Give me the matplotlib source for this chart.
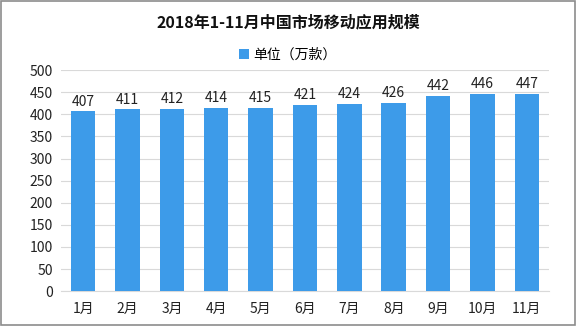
import matplotlib.pyplot as plt
from matplotlib.patches import Rectangle

plt.rcParams['font.family'] = ['Noto Sans CJK SC', 'DejaVu Sans']

months = ['1月', '2月', '3月', '4月', '5月', '6月', '7月', '8月', '9月', '10月', '11月']
apps = [407, 411, 412, 414, 415, 421, 424, 426, 442, 446, 447]
series_name = '单位（万款）'
bar_color = '#3d9be9'

fig = plt.figure(figsize=(5.76, 3.26), dpi=100)
ax = fig.add_axes([0.106, 0.107, 0.847, 0.678])

x = range(len(months))
bars = ax.bar(x, apps, width=0.55, color=bar_color, label=series_name, zorder=3)
for xi, v in zip(x, apps):
    ax.text(xi, v + 6, str(v), ha='center', va='bottom', fontsize=10, color='#222222')

ax.set_xlim(-0.5, len(months) - 0.5)
ax.set_ylim(0, 500)
ax.set_yticks(range(0, 501, 50))
ax.set_xticks(list(x))
ax.set_xticklabels(months)
ax.tick_params(axis='both', length=0, labelsize=10, colors='#222222')
ax.tick_params(axis='x', pad=8)
ax.tick_params(axis='y', pad=6)
ax.grid(axis='y', color='#d9d9d9', lw=0.8, zorder=0)
for s in ['top', 'right', 'left']:
    ax.spines[s].set_visible(False)
ax.spines['bottom'].set_color('#d9d9d9')

fig.text(0.5, 0.93, '2018年1-11月中国市场移动应用规模', ha='center', va='center',
         fontsize=11.5, fontweight='bold', color='#111111')
fig.legend(loc='center', bbox_to_anchor=(0.5, 0.832), frameon=False, fontsize=10,
           handlelength=0.7, handleheight=0.7, handletextpad=0.3)

# grey frame around the picture
fig.patches.append(Rectangle((0.002, 0.003), 0.996, 0.994, transform=fig.transFigure,
                             fill=False, edgecolor='#8c8c8c', lw=1.2))

fig.savefig('out.png', dpi=100)
